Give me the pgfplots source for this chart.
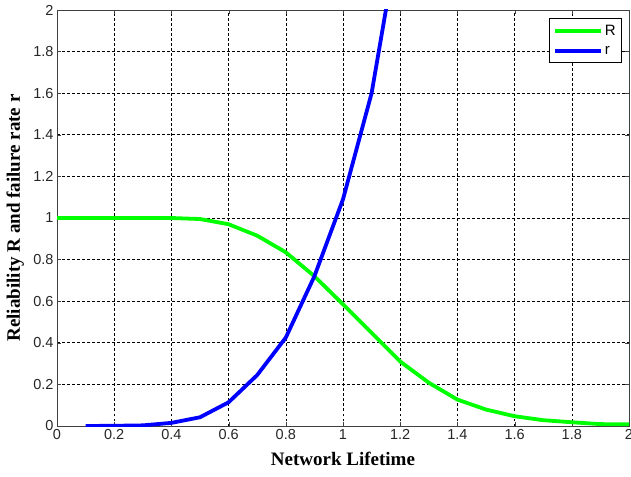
\documentclass[border=0pt]{standalone}
\usepackage{fontspec}
\setmainfont{Liberation Serif}
\setsansfont{Liberation Sans}
\usepackage{pgfplots}
\pgfplotsset{compat=1.18}
\begin{document}
\begin{tikzpicture}
\useasboundingbox (0,0) rectangle (631pt,476pt);
\begin{axis}[
  at={(57pt,50pt)}, anchor=south west,
  width=572pt, height=416pt, scale only axis,
  xmin=0, xmax=2, ymin=0, ymax=2,
  xtick={0,0.2,0.4,0.6,0.8,1,1.2,1.4,1.6,1.8,2},
  ytick={0,0.2,0.4,0.6,0.8,1,1.2,1.4,1.6,1.8,2},
  grid=major,
  major grid style={black, dash pattern=on 2.5pt off 2.5pt, line width=0.6pt},
  tick align=inside,
  axis line style={black!75, line width=0.8pt},
  tick style={black!75},
  /pgf/number format/assume math mode=true,
  tick label style={font=\fontsize{14.5}{16}\selectfont\sffamily, text=black!85},
  xlabel={\textbf{Network Lifetime}},
  ylabel={\textbf{Reliability R and failure rate r}},
  xlabel style={at={(axis description cs:0.5,-0.08)}, anchor=center, font=\fontsize{19}{21}\selectfont},
  ylabel style={at={(axis description cs:-0.073,0.5)}, anchor=center, font=\fontsize{19}{21}\selectfont},
  legend style={at={(0.988,0.98)}, anchor=north east, draw=black, line width=0.8pt,
    font=\fontsize{15}{17}\selectfont\sffamily, inner xsep=4pt, inner ysep=4pt,
    row sep=6pt},
  legend cell align=left,
  legend image code/.code={\draw[#1] (0pt,0pt) -- (46pt,0pt);},
]
\addplot[color={rgb,255:red,0;green,255;blue,0}, line width=3.8pt] coordinates {
(0,1)(0.1,1)(0.2,1)(0.3,1)(0.4,1)(0.5,0.995)(0.6,0.97)(0.7,0.915)(0.8,0.835)
(0.9,0.72)(1.0,0.585)(1.1,0.448)(1.2,0.31)(1.3,0.208)(1.4,0.127)(1.5,0.079)
(1.6,0.047)(1.7,0.028)(1.8,0.018)(1.9,0.009)(2.0,0.008)};
\addlegendentry{R}
\addplot[color={rgb,255:red,0;green,0;blue,255}, line width=3.8pt] coordinates {
(0.1,0)(0.2,0.001)(0.3,0.003)(0.4,0.015)(0.5,0.042)(0.6,0.114)(0.7,0.245)
(0.8,0.425)(0.9,0.72)(1.0,1.09)(1.1,1.6)(1.2,2.4)};
\addlegendentry{r}
\end{axis}
\end{tikzpicture}
\end{document}
